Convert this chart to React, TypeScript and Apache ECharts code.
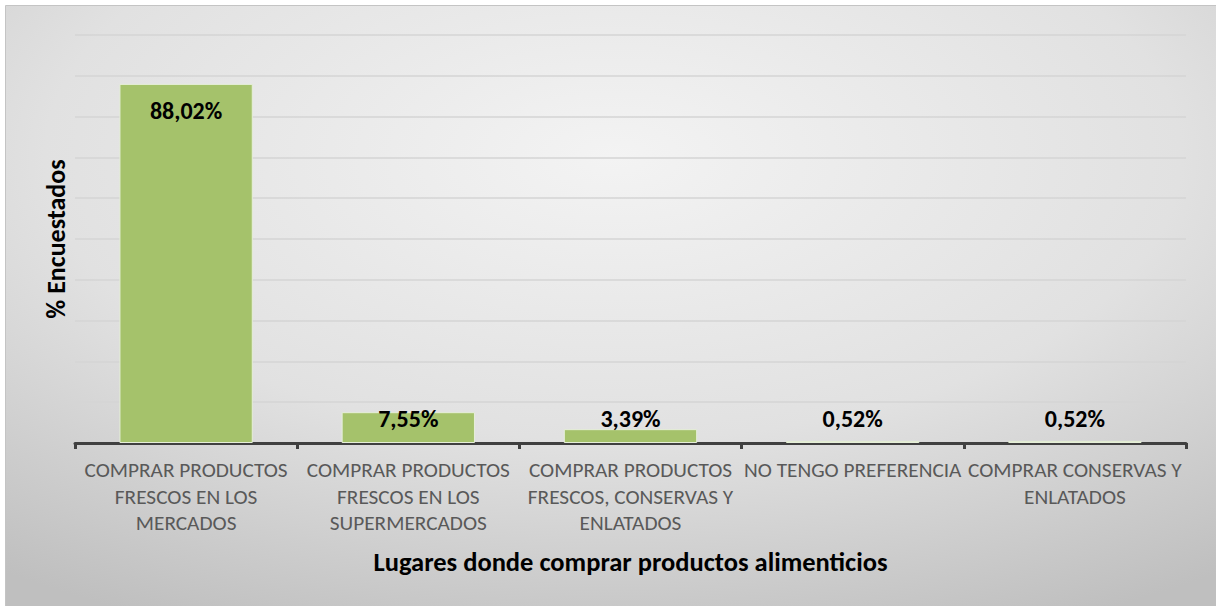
import React, { useEffect, useRef } from "react";
import * as echarts from "echarts";

const categories = [
  "COMPRAR PRODUCTOS\nFRESCOS EN LOS\nMERCADOS",
  "COMPRAR PRODUCTOS\nFRESCOS EN LOS\nSUPERMERCADOS",
  "COMPRAR PRODUCTOS\nFRESCOS, CONSERVAS Y\nENLATADOS",
  "NO TENGO PREFERENCIA",
  "COMPRAR CONSERVAS Y\nENLATADOS",
];
const values = [88.02, 7.55, 3.39, 0.52, 0.52];
const yTicks = { min: 0, max: 100, interval: 10 };
const xTitle = "Lugares donde comprar productos alimenticios";
const yTitle = "% Encuestados";

const FONT = "Carlito, Calibri, Lato, 'Noto Sans', sans-serif";

export default function App() {
  const ref = useRef<HTMLDivElement>(null);
  useEffect(() => {
    document.body.style.margin = "0";
    const chart = echarts.init(ref.current!, undefined, { renderer: "svg" });
    const fmt = (v: number) => v.toFixed(2).replace(".", ",") + "%";
    chart.setOption({
      animation: false,
      backgroundColor: "#ffffff",
      textStyle: { fontFamily: FONT },
      graphic: [
        {
          type: "rect",
          z: -10,
          silent: true,
          shape: { x: 5.5, y: 5.5, width: 1215, height: 605 },
          style: {
            fill: new echarts.graphic.RadialGradient(0.5, 0.25, 0.85, [
              { offset: 0, color: "#f3f3f3" },
              { offset: 0.55, color: "#e1e1e1" },
              { offset: 1, color: "#bfbfbf" },
            ]),
            stroke: "#c4c4c4",
            lineWidth: 1,
          },
        },
      ],
      grid: { left: 75, right: 30, top: 35, bottom: 163, containLabel: false },
      xAxis: {
        type: "category",
        data: categories,
        name: xTitle,
        nameLocation: "middle",
        nameGap: 105,
        nameTextStyle: { fontFamily: FONT, fontSize: 26.5, fontWeight: "bold", color: "#000000" },
        axisLine: { show: true, lineStyle: { color: "#404040", width: 3 } },
        axisTick: { show: true, length: 6, lineStyle: { color: "#404040", width: 3 } },
        axisLabel: {
          interval: 0,
          margin: 14,
          fontFamily: FONT,
          fontSize: 21.3,
          lineHeight: 26.5,
          color: "#595959",
          align: "center",
        },
      },
      yAxis: {
        type: "value",
        min: yTicks.min,
        max: yTicks.max,
        interval: yTicks.interval,
        name: yTitle,
        nameLocation: "middle",
        nameGap: 6,
        nameTextStyle: { fontFamily: FONT, fontSize: 26, fontWeight: "bold", color: "#000000" },
        axisLine: { show: false },
        axisTick: { show: false },
        axisLabel: { show: false },
        splitLine: { show: true, lineStyle: { color: "#d4d4d4", width: 1.5 } },
      },
      series: [
        {
          type: "bar",
          barCategoryGap: "40%",
          data: values.map((v) => ({
            value: v,
            label: v > 50
              ? { position: "insideTop", distance: 15 }
              : { position: "insideBottom", distance: 13 },
          })),
          itemStyle: { color: "#a5c26b", borderColor: "#e6efd9", borderWidth: 1 },
          label: {
            show: true,
            formatter: (p: any) => fmt(p.value),
            fontFamily: FONT,
            fontSize: 24,
            fontWeight: "bold",
            color: "#000000",
          },
        },
      ],
    });
    return () => chart.dispose();
  }, []);
  return (
    <div
      ref={ref}
      style={{ position: "absolute", left: 0, top: 0, width: 1216, height: 606 }}
    />
  );
}
